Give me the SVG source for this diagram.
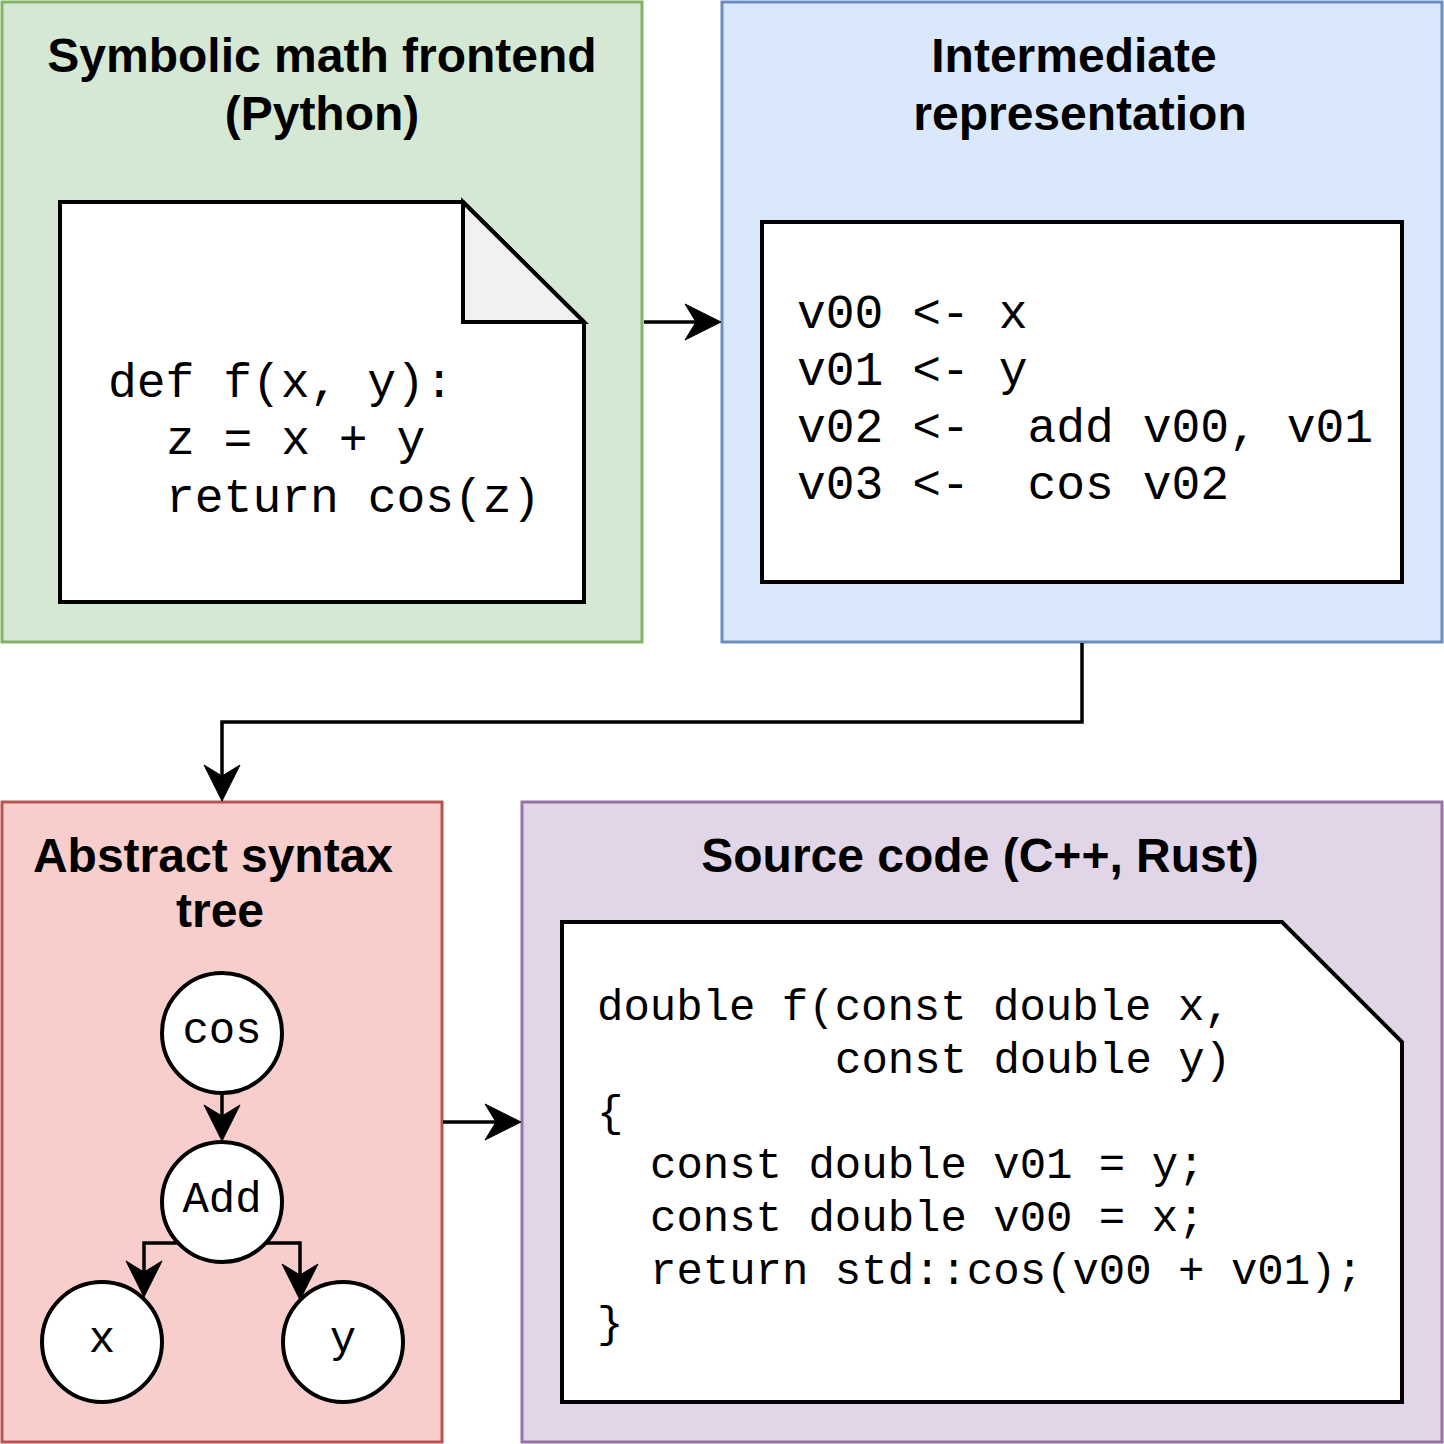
<svg xmlns="http://www.w3.org/2000/svg" width="1444" height="1444" viewBox="0 0 1444 1444">
  <style>
    .title { font-family: "Liberation Sans", Arial, sans-serif; font-weight: bold; font-size: 48px; fill: #000; text-anchor: middle; }
    .code { font-family: "Liberation Mono", "Courier New", monospace; font-size: 48px; fill: #000; white-space: pre; }
    .code2 { font-family: "Liberation Mono", "Courier New", monospace; font-size: 44px; fill: #000; white-space: pre; }
    .node-text { font-family: "Liberation Mono", "Courier New", monospace; font-size: 44px; fill: #000; text-anchor: middle; }
    .edge { fill: none; stroke: #000; stroke-width: 3.5; marker-end: url(#arrow); }
    .card { fill: #fff; stroke: #000; stroke-width: 4; stroke-linejoin: miter; }
    .circle { fill: #fff; stroke: #000; stroke-width: 4; }
  </style>
  <defs>
    <marker id="arrow" markerUnits="userSpaceOnUse" viewBox="-40 -20 42 40" markerWidth="42" markerHeight="40" refX="-20" refY="0" orient="auto">
      <path d="M0,0 L-36,-18 L-25,0 L-36,18 Z" fill="#000" stroke="#000" stroke-width="1" stroke-linejoin="miter"/>
    </marker>
  </defs>
  <rect width="1444" height="1444" fill="#fff"/>

  <!-- Containers -->
  <g id="frontend">
    <rect x="2" y="2" width="640" height="640" fill="#d5e8d4" stroke="#82b366" stroke-width="3"/>
    <text class="title" x="322" y="72">Symbolic math frontend</text>
    <text class="title" x="322" y="130">(Python)</text>
    <path class="card" d="M60,202 H463 L584,322 V602 H60 Z"/>
    <path d="M463,202 L584,322 H463 Z" fill="#f1f1f1" stroke="#000" stroke-width="4" stroke-linejoin="miter"/>
    <text class="code" x="108" y="397">def f(x, y):</text>
    <text class="code" x="166" y="454">z = x + y</text>
    <text class="code" x="166" y="512">return cos(z)</text>
  </g>

  <g id="ir">
    <rect x="722" y="2" width="720" height="640" fill="#dae8fc" stroke="#6c8ebf" stroke-width="3"/>
    <text class="title" x="1074" y="72">Intermediate</text>
    <text class="title" x="1080" y="130">representation</text>
    <rect class="card" x="762" y="222" width="640" height="360"/>
    <text class="code" x="797" y="328">v00 &lt;- x</text>
    <text class="code" x="797" y="385">v01 &lt;- y</text>
    <text class="code" x="797" y="442">v02 &lt;-  add v00, v01</text>
    <text class="code" x="797" y="499">v03 &lt;-  cos v02</text>
  </g>

  <g id="ast">
    <rect x="2" y="802" width="440" height="640" fill="#f8cecc" stroke="#b85450" stroke-width="3"/>
    <text class="title" x="213" y="872">Abstract syntax</text>
    <text class="title" x="220" y="927">tree</text>
  </g>

  <g id="source">
    <rect x="522" y="802" width="920" height="640" fill="#e1d5e7" stroke="#9673a6" stroke-width="3"/>
    <text class="title" x="980" y="872">Source code (C++, Rust)</text>
    <path class="card" d="M562,922 H1282 L1402,1042 V1402 H562 Z"/>
    <text class="code2" x="597" y="1020">double f(const double x,</text>
    <text class="code2" x="835" y="1073">const double y)</text>
    <text class="code2" x="597" y="1126">{</text>
    <text class="code2" x="650" y="1178">const double v01 = y;</text>
    <text class="code2" x="650" y="1231">const double v00 = x;</text>
    <text class="code2" x="650" y="1284">return std::cos(v00 + v01);</text>
    <text class="code2" x="597" y="1337">}</text>
  </g>

  <!-- Connectors -->
  <g id="connectors">
    <path class="edge" d="M644,322 H701"/>
    <path class="edge" d="M1082,643 V722 H222 V781"/>
    <path class="edge" d="M443,1122 H501"/>
    <path class="edge" d="M222,1094 V1121"/>
    <path class="edge" d="M180,1243 H144 V1277"/>
    <path class="edge" d="M264,1243 H300 V1280"/>
  </g>

  <!-- AST nodes -->
  <g id="node-cos">
    <circle class="circle" cx="222" cy="1033" r="60"/>
    <text class="node-text" x="222" y="1043">cos</text>
  </g>
  <g id="node-add">
    <circle class="circle" cx="222" cy="1202" r="60"/>
    <text class="node-text" x="222" y="1212">Add</text>
  </g>
  <g id="node-x">
    <circle class="circle" cx="102" cy="1342" r="60"/>
    <text class="node-text" x="102" y="1352">x</text>
  </g>
  <g id="node-y">
    <circle class="circle" cx="343" cy="1342" r="60"/>
    <text class="node-text" x="343" y="1352">y</text>
  </g>
</svg>
